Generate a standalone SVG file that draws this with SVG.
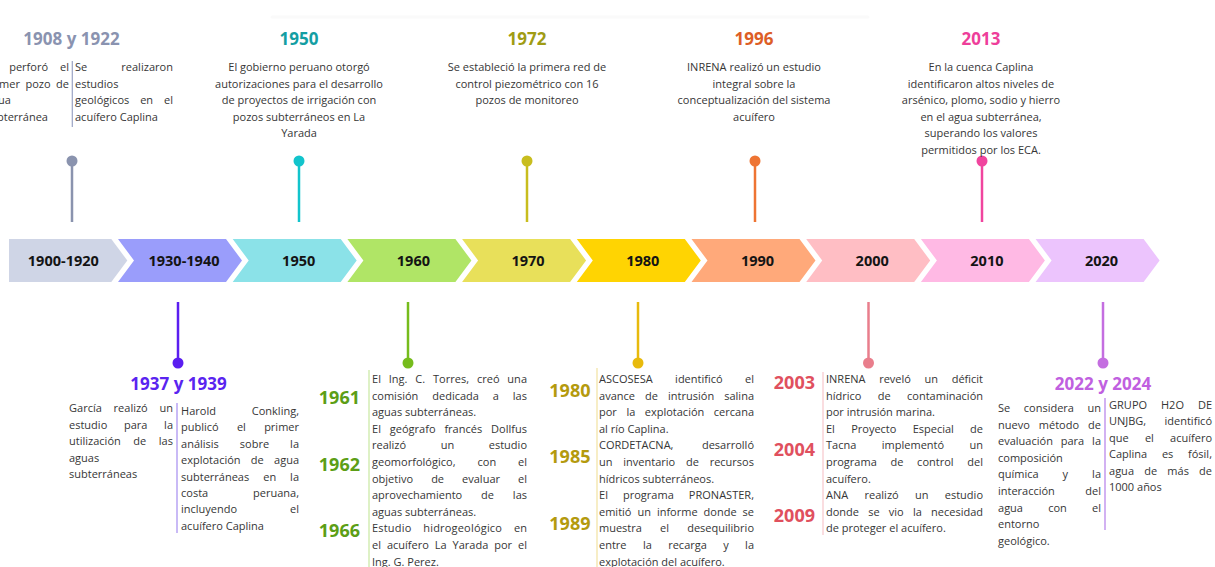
<svg xmlns="http://www.w3.org/2000/svg" width="1215" height="567" viewBox="0 0 1215 567">
<style>
.t{font-family:"Open Sans","Liberation Sans",sans-serif;font-size:11px;fill:#363636}
.h{font-family:"Open Sans","Liberation Sans",sans-serif;font-size:17px;font-weight:700;text-anchor:middle}
.c{text-anchor:middle}
.y{font-family:"Open Sans","Liberation Sans",sans-serif;font-size:18px;font-weight:700;text-anchor:end}
.sl{font-family:"Open Sans","Liberation Sans",sans-serif;font-size:14.5px;font-weight:700;fill:#141414;text-anchor:middle}
.stem{stroke-width:2.5;fill:none}
.sep{stroke-width:1.2;fill:none}
</style>
<rect width="1215" height="567" fill="#ffffff"/>
<line x1="272" y1="17" x2="868" y2="17" stroke="#fafafa" stroke-width="3" stroke-linecap="round"/>

<g id="timeline">
  <g id="seg-1900"><polygon points="9,239 111.3,239 127.3,260.5 111.3,282 9,282" fill="#cfd5e6"/><text class="sl" x="63.3" y="266">1900-1920</text></g>
  <g id="seg-1930"><polygon points="118,239 226,239 242,260.5 226,282 118,282 134,260.5" fill="#9a9dfb"/><text class="sl" x="184" y="266">1930-1940</text></g>
  <g id="seg-1950"><polygon points="232.7,239 340.7,239 356.7,260.5 340.7,282 232.7,282 248.7,260.5" fill="#8be2e8"/><text class="sl" x="298.7" y="266">1950</text></g>
  <g id="seg-1960"><polygon points="347.4,239 455.4,239 471.4,260.5 455.4,282 347.4,282 363.4,260.5" fill="#b0e566"/><text class="sl" x="413.4" y="266">1960</text></g>
  <g id="seg-1970"><polygon points="462.1,239 570.1,239 586.1,260.5 570.1,282 462.1,282 478.1,260.5" fill="#e8e05a"/><text class="sl" x="528.1" y="266">1970</text></g>
  <g id="seg-1980"><polygon points="576.8,239 684.8,239 700.8,260.5 684.8,282 576.8,282 592.8,260.5" fill="#ffd402"/><text class="sl" x="642.8" y="266">1980</text></g>
  <g id="seg-1990"><polygon points="691.5,239 799.5,239 815.5,260.5 799.5,282 691.5,282 707.5,260.5" fill="#ffa97a"/><text class="sl" x="757.5" y="266">1990</text></g>
  <g id="seg-2000"><polygon points="806.2,239 914.2,239 930.2,260.5 914.2,282 806.2,282 822.2,260.5" fill="#ffbec4"/><text class="sl" x="872.2" y="266">2000</text></g>
  <g id="seg-2010"><polygon points="920.9,239 1028.9,239 1044.9,260.5 1028.9,282 920.9,282 936.9,260.5" fill="#ffb9e4"/><text class="sl" x="986.9" y="266">2010</text></g>
  <g id="seg-2020"><polygon points="1035.6,239 1143.6,239 1159.6,260.5 1143.6,282 1035.6,282 1051.6,260.5" fill="#ecc4fd"/><text class="sl" x="1101.6" y="266">2020</text></g>
</g>

<g id="connectors">
  <line class="stem" x1="72" y1="161" x2="72" y2="222" stroke="#8a93ae"/><circle cx="72" cy="161" r="5.5" fill="#8a93ae"/>
  <line class="stem" x1="299" y1="161" x2="299" y2="222" stroke="#12c4cc"/><circle cx="299" cy="161" r="5.5" fill="#12c4cc"/>
  <line class="stem" x1="527" y1="161" x2="527" y2="222" stroke="#c8bd1e"/><circle cx="527" cy="161" r="5.5" fill="#c8bd1e"/>
  <line class="stem" x1="755" y1="161" x2="755" y2="222" stroke="#ee7433"/><circle cx="755" cy="161" r="5.5" fill="#ee7433"/>
  <line class="stem" x1="982" y1="161" x2="982" y2="222" stroke="#f0449e"/><circle cx="982" cy="161" r="5.5" fill="#f0449e"/>
  <line class="stem" x1="178" y1="302" x2="178" y2="363" stroke="#5b1ef0"/><circle cx="178" cy="363" r="5.5" fill="#5b1ef0"/>
  <line class="stem" x1="408" y1="302" x2="408" y2="363" stroke="#76bc1c"/><circle cx="408" cy="363" r="5.5" fill="#76bc1c"/>
  <line class="stem" x1="638" y1="302" x2="638" y2="363" stroke="#e8ba0c"/><circle cx="638" cy="363" r="5.5" fill="#e8ba0c"/>
  <line class="stem" x1="868.5" y1="302" x2="868.5" y2="363" stroke="#e97e8c"/><circle cx="868.5" cy="363" r="5.5" fill="#e97e8c"/>
  <line class="stem" x1="1103" y1="302" x2="1103" y2="363" stroke="#c46ee0"/><circle cx="1103" cy="363" r="5.5" fill="#c46ee0"/>
</g>

<g id="ev-1908">
  <text class="h" x="71.5" y="45" fill="#8a93b0">1908 y 1922</text>
  <line class="sep" x1="72.3" y1="61" x2="72.3" y2="127" stroke="#9aa3c4"/>
  <text class="t" x="-15" y="71" textLength="84" lengthAdjust="spacing" style="word-spacing:9px">Se perforó el</text>
  <text class="t" x="-15" y="87.5" textLength="84" lengthAdjust="spacing" style="word-spacing:2.6px">primer pozo de</text>
  <text class="t" x="-14" y="104">agua</text>
  <text class="t" x="-15" y="120.5">subterránea</text>
  <text class="t" x="75" y="71" textLength="98" lengthAdjust="spacing" style="word-spacing:31px">Se realizaron</text>
  <text class="t" x="75" y="87.5">estudios</text>
  <text class="t" x="75" y="104" textLength="98" lengthAdjust="spacing" style="word-spacing:8px">geológicos en el</text>
  <text class="t" x="75" y="120.5">acuífero Caplina</text>
</g>

<g id="ev-1950">
  <text class="h" x="299" y="45" fill="#149ea3">1950</text>
  <text class="t c" x="299" y="71">El gobierno peruano otorgó</text>
  <text class="t c" x="299" y="87.5">autorizaciones para el desarrollo</text>
  <text class="t c" x="299" y="104">de proyectos de irrigación con</text>
  <text class="t c" x="299" y="120.5">pozos subterráneos en La</text>
  <text class="t c" x="299" y="137">Yarada</text>
</g>

<g id="ev-1972">
  <text class="h" x="527" y="45" fill="#a09c14">1972</text>
  <text class="t c" x="527" y="71">Se estableció la primera red de</text>
  <text class="t c" x="527" y="87.5">control piezométrico con 16</text>
  <text class="t c" x="527" y="104">pozos de monitoreo</text>
</g>

<g id="ev-1996">
  <text class="h" x="754" y="45" fill="#dd5e26">1996</text>
  <text class="t c" x="754" y="71">INRENA realizó un estudio</text>
  <text class="t c" x="754" y="87.5">integral sobre la</text>
  <text class="t c" x="754" y="104">conceptualización del sistema</text>
  <text class="t c" x="754" y="120.5">acuífero</text>
</g>

<g id="ev-2013">
  <text class="h" x="981" y="45" fill="#ee3e9a">2013</text>
  <text class="t c" x="981" y="71">En la cuenca Caplina</text>
  <text class="t c" x="981" y="87.5">identificaron altos niveles de</text>
  <text class="t c" x="981" y="104">arsénico, plomo, sodio y hierro</text>
  <text class="t c" x="981" y="120.5">en el agua subterránea,</text>
  <text class="t c" x="981" y="137">superando los valores</text>
  <text class="t c" x="981" y="153.5">permitidos por los ECA.</text>
</g>

<g id="ev-1937">
  <text class="h" x="178.5" y="389.5" fill="#5a24f0">1937 y 1939</text>
  <line class="sep" x1="177" y1="403" x2="177" y2="533" stroke="#a58cf0"/>
  <text class="t" x="69" y="412" textLength="104" lengthAdjust="spacing" style="word-spacing:8.9px">García realizó un</text>
  <text class="t" x="69" y="428.5" textLength="104" lengthAdjust="spacing" style="word-spacing:13.8px">estudio para la</text>
  <text class="t" x="69" y="445" textLength="104" lengthAdjust="spacing" style="word-spacing:9.7px">utilización de las</text>
  <text class="t" x="69" y="461.5">aguas</text>
  <text class="t" x="69" y="478">subterráneas</text>
  <text class="t" x="181" y="415" textLength="118" lengthAdjust="spacing" style="word-spacing:33px">Harold Conkling,</text>
  <text class="t" x="181" y="431.4" textLength="118" lengthAdjust="spacing" style="word-spacing:15.4px">publicó el primer</text>
  <text class="t" x="181" y="447.8" textLength="118" lengthAdjust="spacing" style="word-spacing:18.1px">análisis sobre la</text>
  <text class="t" x="181" y="464.2" textLength="118" lengthAdjust="spacing" style="word-spacing:7.4px">explotación de agua</text>
  <text class="t" x="181" y="480.6" textLength="118" lengthAdjust="spacing" style="word-spacing:11.1px">subterráneas en la</text>
  <text class="t" x="181" y="497" textLength="118" lengthAdjust="spacing" style="word-spacing:42px">costa peruana,</text>
  <text class="t" x="181" y="513.4" textLength="118" lengthAdjust="spacing" style="word-spacing:50px">incluyendo el</text>
  <text class="t" x="181" y="529.8">acuífero Caplina</text>
</g>

<g id="ev-1960">
  <text class="y" x="360" y="403.5" fill="#5c9e16">1961</text>
  <text class="y" x="360" y="470.5" fill="#5c9e16">1962</text>
  <text class="y" x="360" y="537" fill="#5c9e16">1966</text>
  <line class="sep" x1="369" y1="370" x2="369" y2="567" stroke="#c8e8a0"/>
  <text class="t" x="372" y="383" textLength="155" lengthAdjust="spacing" style="word-spacing:5px">El Ing. C. Torres, creó una</text>
  <text class="t" x="372" y="399.6" textLength="155" lengthAdjust="spacing" style="word-spacing:11px">comisión dedicada a las</text>
  <text class="t" x="372" y="416.2">aguas subterráneas.</text>
  <text class="t" x="372" y="432.8" textLength="155" lengthAdjust="spacing" style="word-spacing:6px">El geógrafo francés Dollfus</text>
  <text class="t" x="372" y="449.4" textLength="155" lengthAdjust="spacing" style="word-spacing:31.7px">realizó un estudio</text>
  <text class="t" x="372" y="466" textLength="155" lengthAdjust="spacing" style="word-spacing:19px">geomorfológico, con el</text>
  <text class="t" x="372" y="482.6" textLength="155" lengthAdjust="spacing" style="word-spacing:15.2px">objetivo de evaluar el</text>
  <text class="t" x="372" y="499.2" textLength="155" lengthAdjust="spacing" style="word-spacing:16px">aprovechamiento de las</text>
  <text class="t" x="372" y="515.8">aguas subterráneas.</text>
  <text class="t" x="372" y="532.4" textLength="155" lengthAdjust="spacing" style="word-spacing:8.7px">Estudio hidrogeológico en</text>
  <text class="t" x="372" y="549" textLength="155" lengthAdjust="spacing" style="word-spacing:3.1px">el acuífero La Yarada por el</text>
  <text class="t" x="372" y="565.6">Ing. G. Perez.</text>
</g>

<g id="ev-1980">
  <text class="y" x="590.5" y="397" fill="#b49a0e">1980</text>
  <text class="y" x="590.5" y="463" fill="#b49a0e">1985</text>
  <text class="y" x="590.5" y="529.5" fill="#b49a0e">1989</text>
  <line class="sep" x1="597" y1="368" x2="597" y2="567" stroke="#f2e2a0"/>
  <text class="t" x="599" y="383" textLength="155" lengthAdjust="spacing" style="word-spacing:19.6px">ASCOSESA identificó el</text>
  <text class="t" x="599" y="399.6" textLength="155" lengthAdjust="spacing" style="word-spacing:7.2px">avance de intrusión salina</text>
  <text class="t" x="599" y="416.2" textLength="155" lengthAdjust="spacing" style="word-spacing:6.7px">por la explotación cercana</text>
  <text class="t" x="599" y="432.8">al río Caplina.</text>
  <text class="t" x="599" y="449.4" textLength="155" lengthAdjust="spacing" style="word-spacing:25.6px">CORDETACNA, desarrolló</text>
  <text class="t" x="599" y="466" textLength="155" lengthAdjust="spacing" style="word-spacing:7.9px">un inventario de recursos</text>
  <text class="t" x="599" y="482.6">hídricos subterráneos.</text>
  <text class="t" x="599" y="499.2" textLength="155" lengthAdjust="spacing" style="word-spacing:12.2px">El programa PRONASTER,</text>
  <text class="t" x="599" y="515.8" textLength="155" lengthAdjust="spacing" style="word-spacing:3.1px">emitió un informe donde se</text>
  <text class="t" x="599" y="532.4" textLength="155" lengthAdjust="spacing" style="word-spacing:15.3px">muestra el desequilibrio</text>
  <text class="t" x="599" y="549" textLength="155" lengthAdjust="spacing" style="word-spacing:13.5px">entre la recarga y la</text>
  <text class="t" x="599" y="565.6">explotación del acuífero.</text>
</g>

<g id="ev-2000">
  <text class="y" x="815" y="389" fill="#e0505e">2003</text>
  <text class="y" x="815" y="455.7" fill="#e0505e">2004</text>
  <text class="y" x="815" y="522.4" fill="#e0505e">2009</text>
  <line class="sep" x1="823" y1="372" x2="823" y2="535" stroke="#f7c6cc"/>
  <text class="t" x="826" y="383" textLength="157" lengthAdjust="spacing" style="word-spacing:10.8px">INRENA reveló un déficit</text>
  <text class="t" x="826" y="399.6" textLength="157" lengthAdjust="spacing" style="word-spacing:13.5px">hídrico de contaminación</text>
  <text class="t" x="826" y="416.2">por intrusión marina.</text>
  <text class="t" x="826" y="432.8" textLength="157" lengthAdjust="spacing" style="word-spacing:13.4px">El Proyecto Especial de</text>
  <text class="t" x="826" y="449.4" textLength="157" lengthAdjust="spacing" style="word-spacing:22.5px">Tacna implementó un</text>
  <text class="t" x="826" y="466" textLength="157" lengthAdjust="spacing" style="word-spacing:10.8px">programa de control del</text>
  <text class="t" x="826" y="482.6">acuífero.</text>
  <text class="t" x="826" y="499.2" textLength="157" lengthAdjust="spacing" style="word-spacing:13.4px">ANA realizó un estudio</text>
  <text class="t" x="826" y="515.8" textLength="157" lengthAdjust="spacing" style="word-spacing:6.3px">donde se vio la necesidad</text>
  <text class="t" x="826" y="532.4">de proteger el acuífero.</text>
</g>

<g id="ev-2022">
  <text class="h" x="1103" y="390" fill="#c060e0">2022 y 2024</text>
  <line class="sep" x1="1105" y1="398" x2="1105" y2="530" stroke="#b47eea"/>
  <text class="t" x="998" y="412" textLength="103" lengthAdjust="spacing" style="word-spacing:10.7px">Se considera un</text>
  <text class="t" x="998" y="428.6" textLength="103" lengthAdjust="spacing" style="word-spacing:6.1px">nuevo método de</text>
  <text class="t" x="998" y="445.2" textLength="103" lengthAdjust="spacing" style="word-spacing:5px">evaluación para la</text>
  <text class="t" x="998" y="461.8">composición</text>
  <text class="t" x="998" y="478.4" textLength="103" lengthAdjust="spacing" style="word-spacing:21.1px">química y la</text>
  <text class="t" x="998" y="495" textLength="103" lengthAdjust="spacing" style="word-spacing:27.6px">interacción del</text>
  <text class="t" x="998" y="511.6" textLength="103" lengthAdjust="spacing" style="word-spacing:22.3px">agua con el</text>
  <text class="t" x="998" y="528.2">entorno</text>
  <text class="t" x="998" y="544.8">geológico.</text>
  <text class="t" x="1109" y="408.5" textLength="103" lengthAdjust="spacing" style="word-spacing:11px">GRUPO H2O DE</text>
  <text class="t" x="1109" y="425" textLength="103" lengthAdjust="spacing" style="word-spacing:15.5px">UNJBG, identificó</text>
  <text class="t" x="1109" y="441.5" textLength="103" lengthAdjust="spacing" style="word-spacing:13.4px">que el acuífero</text>
  <text class="t" x="1109" y="458" textLength="103" lengthAdjust="spacing" style="word-spacing:11.8px">Caplina es fósil,</text>
  <text class="t" x="1109" y="474.5" textLength="103" lengthAdjust="spacing" style="word-spacing:7.3px">agua de más de</text>
  <text class="t" x="1109" y="491">1000 años</text>
</g>
</svg>
